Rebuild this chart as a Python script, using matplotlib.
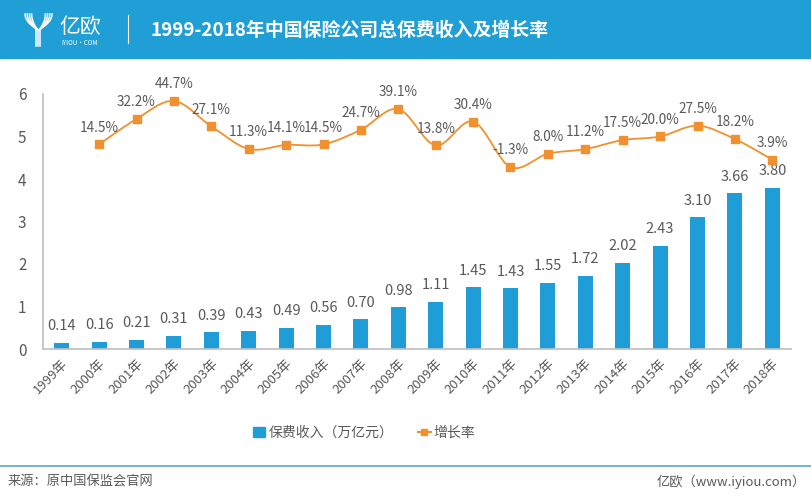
import numpy as np
import matplotlib.pyplot as plt
from matplotlib.path import Path
from matplotlib.patches import PathPatch, Rectangle
from matplotlib.lines import Line2D

plt.rcParams['font.family'] = ['Noto Sans CJK SC', 'DejaVu Sans']

years = ["1999年", "2000年", "2001年", "2002年", "2003年", "2004年", "2005年",
         "2006年", "2007年", "2008年", "2009年", "2010年", "2011年", "2012年",
         "2013年", "2014年", "2015年", "2016年", "2017年", "2018年"]
premium = [0.14, 0.16, 0.21, 0.31, 0.39, 0.43, 0.49, 0.56, 0.70, 0.98,
           1.11, 1.45, 1.43, 1.55, 1.72, 2.02, 2.43, 3.10, 3.66, 3.80]
# growth rate starts in 2000
growth = [14.5, 32.2, 44.7, 27.1, 11.3, 14.1, 14.5, 24.7, 39.1, 13.8,
          30.4, -1.3, 8.0, 11.2, 17.5, 20.0, 27.5, 18.2, 3.9]

BLUE = "#1e9dd6"
ORANGE = "#f0902e"
GREY = "#595959"
W, H = 812, 500


def fx(px):
    return px / W


def fy(py):
    return 1 - py / H


fig = plt.figure(figsize=(8.12, 5), dpi=100)

# header band
fig.patches.append(Rectangle((0, fy(58)), 1, 58 / H, transform=fig.transFigure,
                             color="#1f9fd6", zorder=0))
# logo: a stylised Y made of arcs
t = np.linspace(0, 1, 30)
for k in range(4):
    off = k * 2.2
    xs = 25 + off + (13 - off) * t
    ys = 14 + 16 * t ** 0.5
    fig.add_artist(Line2D(fx(xs), fy(ys), color="white", lw=1.1))
    xs2 = 52 - off - (13 - off) * t
    fig.add_artist(Line2D(fx(xs2), fy(ys), color="white", lw=1.1))
for k in range(3):
    fig.add_artist(Line2D([fx(36 + k * 2)] * 2, [fy(30), fy(46)], color="white", lw=1.1))
fig.text(fx(80), fy(27), "亿欧", color="white", fontsize=15,
         ha="center", va="center")
fig.text(fx(80), fy(43), "IYIOU·COM", color="white", fontsize=4.5,
         ha="center", va="center")
fig.add_artist(Line2D([fx(128)] * 2, [fy(15), fy(43)], color="white", lw=0.8))
fig.text(fx(151), fy(30), "1999-2018年中国保险公司总保费收入及增长率", color="white",
         fontsize=13.6, fontweight="bold", ha="left", va="center")

# main axes
ax = fig.add_axes([fx(43), fy(349), fx(791) - fx(43), (349 - 94) / H])
x = np.arange(len(years))
ax.bar(x, premium, width=0.4, color=BLUE, zorder=2)
for xi, v in zip(x, premium):
    ax.annotate(f"{v:.2f}", (xi, v), xytext=(0, 7), textcoords="offset points",
                ha="center", va="bottom", fontsize=10.5, color=GREY)
ax.set_xlim(-0.5, len(years) - 0.5)
ax.set_ylim(0, 6)
ax.set_yticks(range(0, 7))
ax.set_xticks(x)
ax.set_xticklabels(years, rotation=45, ha="right", rotation_mode="anchor",
                   fontsize=9.5, color=GREY)
ax.tick_params(axis="y", length=0, labelsize=11, labelcolor=GREY, pad=12)
ax.tick_params(axis="x", length=0, pad=6)
for s in ["top", "right"]:
    ax.spines[s].set_visible(False)
for s in ["left", "bottom"]:
    ax.spines[s].set_color("#bfbfbf")
    ax.spines[s].set_linewidth(1.2)

# growth rate on a hidden secondary axis, smoothed like the original
ax2 = ax.twinx()
ax2.set_ylim(-128, 49.6)
ax2.axis("off")
gx = np.arange(1, len(years))
pts = np.column_stack([gx, growth]).astype(float)
verts = [pts[0]]
codes = [Path.MOVETO]
n = len(pts)
for i in range(n - 1):
    p0 = pts[i - 1] if i > 0 else pts[i]
    p1, p2 = pts[i], pts[i + 1]
    p3 = pts[i + 2] if i + 2 < n else pts[i + 1]
    verts += [p1 + (p2 - p0) / 6, p2 - (p3 - p1) / 6, p2]
    codes += [Path.CURVE4] * 3
ax2.add_patch(PathPatch(Path(verts, codes), fill=False, edgecolor=ORANGE, lw=1.3))
ax2.plot(gx, growth, ls="none", marker="s", ms=5.5, color=ORANGE)
for xi, v in zip(gx, growth):
    ax2.annotate(f"{v:.1f}%", (xi, v), xytext=(0, 7), textcoords="offset points",
                 ha="center", va="bottom", fontsize=9.8, color=GREY)

# legend
handles = [Rectangle((0, 0), 1, 1, color=BLUE),
           Line2D([], [], color=ORANGE, lw=1.5, marker="s", ms=4.5)]
fig.legend(handles, ["保费收入（万亿元）", "增长率"], loc="center",
           bbox_to_anchor=(fx(364), fy(433)), ncol=2, frameon=False,
           fontsize=10, labelcolor=GREY, handlelength=0.9, handletextpad=0.2,
           columnspacing=1.8)

# footer
fig.add_artist(Line2D([0, 1], [fy(466)] * 2, color="#5aa7c4", lw=1.2))
fig.text(fx(8), fy(482), "来源：原中国保监会官网", fontsize=9.5, color=GREY,
         ha="left", va="center")
fig.text(fx(806), fy(482), "亿欧（www.iyiou.com）", fontsize=9.5, color=GREY,
         ha="right", va="center")

fig.savefig("out.png", dpi=100)
